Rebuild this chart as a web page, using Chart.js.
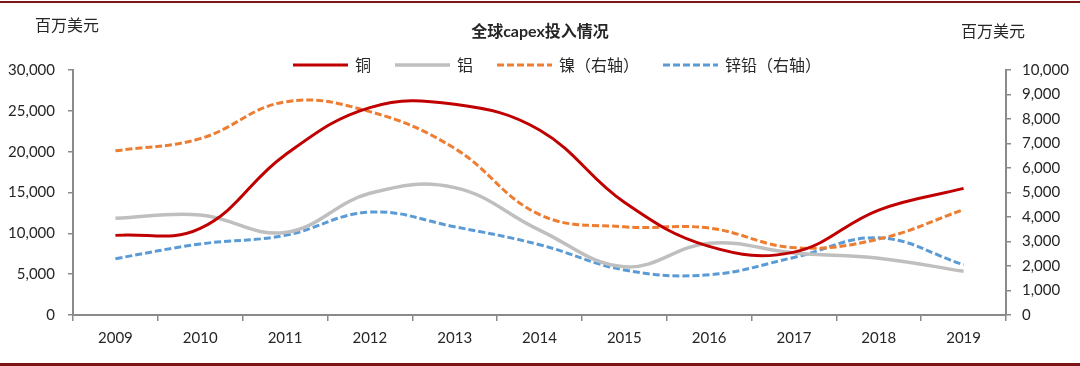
<!DOCTYPE html>
<html>
<head>
<meta charset="utf-8">
<script src="https://cdn.jsdelivr.net/npm/chart.js@4/dist/chart.umd.min.js"></script>
<style>
  html, body { margin: 0; padding: 0; background: #fff; }
  #wrap { width: 1080px; height: 366px; position: relative; }
</style>
</head>
<body>
<div id="wrap"><canvas id="chart" width="1080" height="366"></canvas></div>
<script>
const years = ["2009", "2010", "2011", "2012", "2013", "2014", "2015", "2016", "2017", "2018", "2019"];
const copper = [9750, 10600, 19600, 25400, 25800, 22650, 13800, 8400, 7700, 12850, 15500];
const aluminum = [11850, 12250, 10100, 14900, 15600, 10400, 5900, 8800, 7600, 6950, 5350];
const nickel = [6700, 7200, 8700, 8300, 6800, 4100, 3600, 3550, 2750, 3100, 4300];
const zincLead = [2300, 2900, 3250, 4200, 3600, 2870, 1840, 1640, 2350, 3150, 2050];
const leftTicks = [0, 5000, 10000, 15000, 20000, 25000, 30000];
const rightTicks = [0, 1000, 2000, 3000, 4000, 5000, 6000, 7000, 8000, 9000, 10000];

const titleText = "全球capex投入情况";
const unitText = "百万美元";

const numFont = "Lato, 'Liberation Sans', sans-serif";
const cjkFont = "'Noto Sans CJK SC', sans-serif";
const axisColor = "#8a8a8a";
const textColor = "#262626";

function fmt(v) {
  return v.toLocaleString("en-US");
}

// title, units, legend and the red rules above and below
const decor = {
  id: "decor",
  beforeDraw(chart) {
    const ctx = chart.ctx;
    ctx.save();
    ctx.fillStyle = "#fff";
    ctx.fillRect(0, 0, chart.width, chart.height);
    ctx.fillStyle = "#7d1416";
    ctx.fillRect(0, 1, chart.width, 2);
    ctx.fillRect(0, 363, chart.width, 3);
    ctx.restore();
  },
  afterDraw(chart) {
    const ctx = chart.ctx;
    ctx.save();
    ctx.fillStyle = textColor;
    ctx.textBaseline = "middle";

    ctx.font = "bold 16px Lato, " + cjkFont;
    ctx.textAlign = "center";
    ctx.fillText(titleText, 540, 32);

    ctx.font = "16px " + cjkFont;
    ctx.textAlign = "left";
    ctx.fillText(unitText, 35, 25);
    ctx.fillText(unitText, 961, 31);

    // legend
    let x = 293;
    const y = 65;
    chart.data.datasets.forEach((ds) => {
      ctx.beginPath();
      ctx.strokeStyle = ds.borderColor;
      ctx.lineWidth = ds.borderWidth;
      ctx.setLineDash(ds.borderDash || []);
      ctx.moveTo(x, y);
      ctx.lineTo(x + 55, y);
      ctx.stroke();
      ctx.setLineDash([]);
      ctx.font = "16px " + cjkFont;
      ctx.fillStyle = textColor;
      ctx.fillText(ds.label, x + 62, y);
      x += 62 + ctx.measureText(ds.label).width + 24;
    });
    ctx.restore();
  },
};

function fixWidth(w) {
  return (scale) => { scale.width = w; };
}

const tickFont = { family: numFont, size: 15 };

new Chart(document.getElementById("chart"), {
  type: "line",
  data: {
    labels: years,
    datasets: [
      { label: "铜", data: copper, yAxisID: "y", borderColor: "#c00000", borderWidth: 3, tension: 0.4 },
      { label: "铝", data: aluminum, yAxisID: "y", borderColor: "#bfbfbf", borderWidth: 3.5, tension: 0.4 },
      { label: "镍（右轴）", data: nickel, yAxisID: "y1", borderColor: "#ed7d31", borderWidth: 3, borderDash: [7, 3], tension: 0.4 },
      { label: "锌铅（右轴）", data: zincLead, yAxisID: "y1", borderColor: "#5b9bd5", borderWidth: 3, borderDash: [7, 3], tension: 0.4 },
    ],
  },
  options: {
    responsive: false,
    animation: false,
    devicePixelRatio: 1,
    layout: { padding: { top: 70, left: 0, right: 0, bottom: 0 } },
    elements: { point: { radius: 0 } },
    plugins: {
      legend: { display: false },
      title: { display: false },
      tooltip: { enabled: false },
    },
    scales: {
      x: {
        offset: true,
        afterFit: (scale) => { scale.height = 51; },
        grid: { offset: true, drawOnChartArea: false, drawTicks: true, tickLength: 6, color: axisColor, lineWidth: 1.5 },
        border: { display: true, color: axisColor, width: 2 },
        ticks: { color: textColor, font: tickFont, padding: 8, maxRotation: 0 },
      },
      y: {
        position: "left",
        min: 0,
        max: 30000,
        afterFit: fixWidth(73),
        afterBuildTicks: (scale) => { scale.ticks = leftTicks.map((v) => ({ value: v })); },
        grid: { drawOnChartArea: false, drawTicks: true, tickLength: 5, color: axisColor, lineWidth: 1.5 },
        border: { display: true, color: axisColor, width: 2 },
        ticks: { color: textColor, font: tickFont, padding: 13, callback: (v) => fmt(v) },
      },
      y1: {
        position: "right",
        min: 0,
        max: 10000,
        afterFit: fixWidth(74),
        afterBuildTicks: (scale) => { scale.ticks = rightTicks.map((v) => ({ value: v })); },
        grid: { drawOnChartArea: false, drawTicks: true, tickLength: 5, color: axisColor, lineWidth: 1.5 },
        border: { display: true, color: axisColor, width: 2 },
        ticks: { color: textColor, font: tickFont, padding: 11, callback: (v) => fmt(v) },
      },
    },
  },
  plugins: [decor],
});
</script>
</body>
</html>
